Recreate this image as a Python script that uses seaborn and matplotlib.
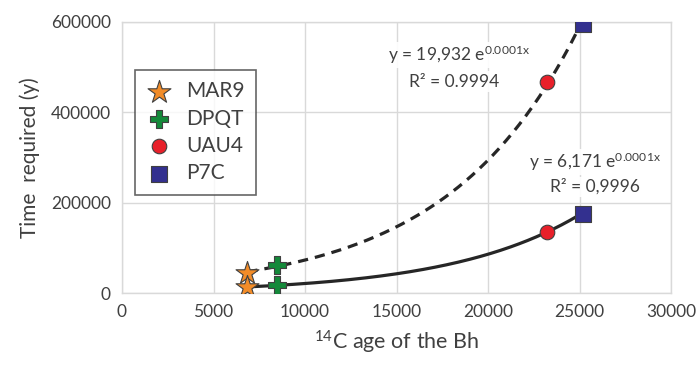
import numpy as np
import pandas as pd
import matplotlib
matplotlib.use("Agg")
import matplotlib.pyplot as plt
import seaborn as sns

# ---- data ----
samples = ["MAR9", "DPQT", "UAU4", "P7C"]
age_14c = [6850, 8460, 23200, 25200]
time_upper = [45000, 62000, 468000, 595000]
time_lower = [13000, 18000, 136000, 176000]
x_ticks = [0, 5000, 10000, 15000, 20000, 25000, 30000]
y_ticks = [0, 200000, 400000, 600000]
eq_upper = [r"y = 19,932 e$^{\mathrm{0.0001x}}$", "R² = 0.9994"]
eq_lower = [r"y = 6,171 e$^{\mathrm{0.0001x}}$", "R² = 0,9996"]

colors = {"MAR9": "#F28C28", "DPQT": "#14893A", "UAU4": "#E8202A", "P7C": "#33308F"}
markers = {"MAR9": "*", "DPQT": "P", "UAU4": "o", "P7C": "s"}
sizes = {"MAR9": 300, "DPQT": 170, "UAU4": 110, "P7C": 120}

sns.set_theme(style="white")
plt.rcParams["font.family"] = ["Lato", "DejaVu Sans"]
plt.rcParams["mathtext.fontset"] = "custom"
plt.rcParams["mathtext.rm"] = "Lato"
plt.rcParams["mathtext.it"] = "Lato"

df = pd.DataFrame({
    "sample": samples * 2,
    "age": age_14c * 2,
    "time": time_upper + time_lower,
    "series": ["upper"] * 4 + ["lower"] * 4,
})

fig = plt.figure(figsize=(6.97, 3.65), dpi=100)
ax = fig.add_axes([0.175, 0.197, 0.788, 0.743])

# exponential trend lines (log-linear fit, like a spreadsheet trendline)
xs = np.linspace(min(age_14c), max(age_14c), 200)
for vals, ls in [(time_upper, (0, (3.2, 2.2))), (time_lower, "-")]:
    b, ln_a = np.polyfit(age_14c, np.log(vals), 1)
    fit = pd.DataFrame({"age": xs, "time": np.exp(ln_a) * np.exp(b * xs)})
    sns.lineplot(data=fit, x="age", y="time", ax=ax, color="#262626",
                 lw=2.3, linestyle=ls, zorder=2, legend=False)

for s in samples:
    sub = df[df["sample"] == s]
    sns.scatterplot(data=sub, x="age", y="time", ax=ax, marker=markers[s],
                    s=sizes[s], color=colors[s], edgecolor="#404040",
                    linewidth=0.8, zorder=3, label=s)

ax.set_xlim(0, 30000)
ax.set_ylim(0, 600000)
ax.set_xticks(x_ticks)
ax.set_yticks(y_ticks)
ax.set_xticklabels([str(t) for t in x_ticks])
ax.set_yticklabels([str(t) for t in y_ticks])
ax.grid(True, color="#d9d9d9", lw=1.0)
ax.set_axisbelow(True)
for sp in ax.spines.values():
    sp.set_color("#d9d9d9")
    sp.set_linewidth(1.0)
ax.tick_params(length=0, labelsize=12.5, labelcolor="#404040", pad=8)

ax.set_xlabel("$^{14}$C age of the Bh", fontsize=15.5, color="#404040", labelpad=6)
ax.set_ylabel("Time  required (y)", fontsize=15, color="#404040", labelpad=8)

bbox = dict(facecolor="white", edgecolor="none", pad=1.5, alpha=0.9)
ax.text(18400, 527000, eq_upper[0], ha="center", va="center", fontsize=12.5,
        color="#404040", bbox=bbox, zorder=4)
ax.text(18150, 468000, eq_upper[1], ha="center", va="center", fontsize=12.5,
        color="#404040", bbox=bbox, zorder=4)
ax.text(25850, 290000, eq_lower[0], ha="center", va="center", fontsize=12.5,
        color="#404040", bbox=bbox, zorder=4)
ax.text(25850, 235000, eq_lower[1], ha="center", va="center", fontsize=12.5,
        color="#404040", bbox=bbox, zorder=4)

handles, labels = ax.get_legend_handles_labels()
leg = ax.legend(handles, labels, loc="upper left", bbox_to_anchor=(0.024, 0.823),
                fontsize=15, frameon=True, fancybox=False, borderpad=0.55,
                labelspacing=0.35, handletextpad=0.7, handlelength=1.2,
                labelcolor="#404040", borderaxespad=0)
leg.get_frame().set_edgecolor("#404040")
leg.get_frame().set_linewidth(1.2)

fig.savefig("out.png", dpi=100)
